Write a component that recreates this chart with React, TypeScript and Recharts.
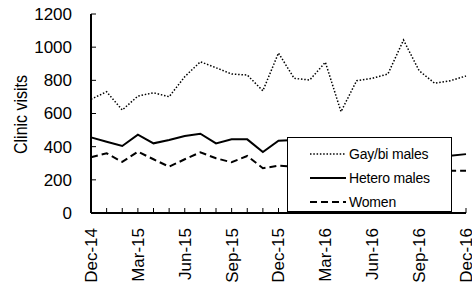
import { LineChart, Line, XAxis, YAxis, Label } from "recharts";

const months = [
  "Dec-14", "Jan-15", "Feb-15", "Mar-15", "Apr-15", "May-15", "Jun-15", "Jul-15", "Aug-15",
  "Sep-15", "Oct-15", "Nov-15", "Dec-15", "Jan-16", "Feb-16", "Mar-16", "Apr-16", "May-16",
  "Jun-16", "Jul-16", "Aug-16", "Sep-16", "Oct-16", "Nov-16", "Dec-16",
];
const gayBiMales = [686, 731, 621, 705, 725, 701, 822, 912, 876, 838, 832, 737, 965, 812, 802, 909, 611, 798, 812, 838, 1043, 858, 782, 798, 826];
const heteroMales = [456, 430, 404, 472, 420, 440, 464, 478, 420, 444, 444, 368, 436, 440, 425, 445, 415, 405, 420, 410, 400, 385, 370, 345, 355];
const women = [336, 360, 308, 370, 324, 279, 324, 366, 330, 306, 344, 270, 285, 280, 300, 320, 255, 290, 300, 290, 315, 280, 262, 255, 255];
const yTicks = [0, 200, 400, 600, 800, 1000, 1200];

const series = [
  { key: "gay", name: "Gay/bi males", dash: "1.5 1.8", width: 1.5 },
  { key: "hetero", name: "Hetero males", dash: undefined, width: 2 },
  { key: "women", name: "Women", dash: "7 4", width: 2 },
];

const data = months.map((m, i) => ({
  month: m,
  gay: gayBiMales[i],
  hetero: heteroMales[i],
  women: women[i],
}));

const FONT = "'Liberation Sans', Arial, sans-serif";

// eslint-disable-next-line @typescript-eslint/no-explicit-any
function XTick({ x, y, payload, index }: any) {
  return (
    <g>
      <line x1={x} y1={y} x2={x} y2={y - 5} stroke="#000" strokeWidth={1} />
      {index % 3 === 0 && (
        <text
          x={x}
          y={y + 15}
          dy="0.35em"
          textAnchor="end"
          transform={`rotate(-90, ${x}, ${y + 15})`}
          fontFamily={FONT}
          fontSize={17}
          fill="#000"
        >
          {payload.value}
        </text>
      )}
    </g>
  );
}

// eslint-disable-next-line @typescript-eslint/no-explicit-any
function YTick({ x, y, payload }: any) {
  return (
    <g>
      <line x1={x} y1={y} x2={x + 5} y2={y} stroke="#000" strokeWidth={1} />
      <text x={x - 19} y={y} dy="0.35em" textAnchor="end" fontFamily={FONT} fontSize={17} fill="#000">
        {payload.value}
      </text>
    </g>
  );
}

export default function App() {
  return (
    <div style={{ position: "fixed", left: 0, top: 0, width: 472, height: 286, background: "#fff" }}>
      <LineChart width={472} height={286} data={data} margin={{ top: 14, right: 6, left: 0, bottom: 0 }}>
        <XAxis
          dataKey="month"
          interval={0}
          tick={<XTick />}
          tickSize={0}
          tickMargin={0}
          tickLine={false}
          height={73}
          axisLine={{ stroke: "#000", strokeWidth: 2 }}
        />
        <XAxis
          xAxisId="top"
          dataKey="month"
          orientation="top"
          tick={false}
          tickLine={false}
          height={0}
          axisLine={{ stroke: "#000", strokeWidth: 2 }}
        />
        <YAxis
          domain={[0, 1200]}
          ticks={yTicks}
          tick={<YTick />}
          tickSize={0}
          tickMargin={0}
          tickLine={false}
          width={91}
          axisLine={{ stroke: "#000", strokeWidth: 2 }}
        >
          <Label
            content={({ viewBox }: any) => {
              const cx = viewBox.x + 21;
              const cy = viewBox.y + viewBox.height / 2 + 1;
              return (
                <text
                  x={cx}
                  y={cy}
                  textAnchor="middle"
                  dy="0.35em"
                  transform={`rotate(-90, ${cx}, ${cy})`}
                  fontFamily={FONT}
                  fontSize={18}
                  textLength={79}
                  lengthAdjust="spacingAndGlyphs"
                  fill="#000"
                >
                  Clinic visits
                </text>
              );
            }}
          />
        </YAxis>
        <YAxis
          yAxisId="right"
          orientation="right"
          domain={[0, 1200]}
          tick={false}
          tickLine={false}
          width={0}
          axisLine={{ stroke: "#000", strokeWidth: 2 }}
        />
        {series.map((s) => (
          <Line
            key={s.key}
            dataKey={s.key}
            name={s.name}
            stroke="#000"
            strokeWidth={s.width}
            strokeDasharray={s.dash}
            dot={false}
            activeDot={false}
            isAnimationActive={false}
            type="linear"
          />
        ))}
      </LineChart>
      <div
        style={{
          position: "absolute",
          left: 287,
          top: 137,
          width: 165,
          height: 75,
          border: "1.5px solid #000",
          boxSizing: "border-box",
          background: "#fff",
          fontFamily: FONT,
          fontSize: 14,
          color: "#000",
        }}
      >
        {series.map((s, i) => (
          <div
            key={s.key}
            style={{ position: "absolute", left: 21, top: 6 + i * 24, height: 20, display: "flex", alignItems: "center" }}
          >
            <svg width={38} height={20} style={{ display: "block" }}>
              <line x1={1} y1={10} x2={37} y2={10} stroke="#000" strokeWidth={s.width} strokeDasharray={s.dash} />
            </svg>
            <span style={{ marginLeft: 2, whiteSpace: "nowrap", letterSpacing: -0.2 }}>{s.name}</span>
          </div>
        ))}
      </div>
    </div>
  );
}
